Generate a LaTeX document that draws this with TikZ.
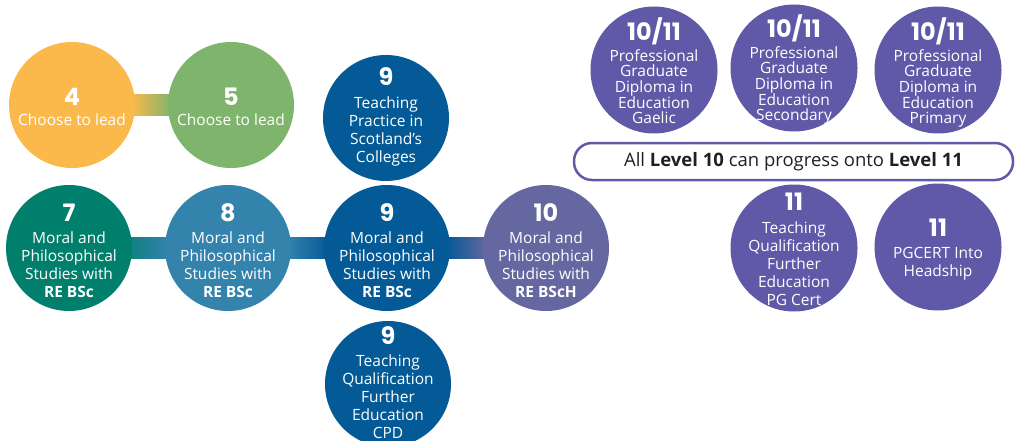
\documentclass[tikz,border=0pt]{standalone}
\usepackage{fontspec}
\setmainfont{Open Sans}
\newfontfamily\numfont{Poppins}
\usetikzlibrary{backgrounds}
\definecolor{cyel}{HTML}{FBB94B}
\definecolor{cgrn}{HTML}{7EB46C}
\definecolor{cteal}{HTML}{007F6C}
\definecolor{cmid}{HTML}{3383AD}
\definecolor{cdark}{HTML}{035A96}
\definecolor{cslate}{HTML}{6567A0}
\definecolor{cpur}{HTML}{5F59A7}
\definecolor{ctxt}{HTML}{231F20}
\begin{document}
\begin{tikzpicture}[x=1pt,y=-1pt,
  circ/.style={circle, minimum size=126pt, inner sep=0pt},
  rcirc/.style={circle, minimum size=127pt, inner sep=0pt, fill=cpur},
  num/.style={font=\numfont\bfseries\fontsize{24}{24}\selectfont, text=white, inner sep=0pt},
  body/.style={align=center, text=white, inner sep=0pt, anchor=north, font=\fontsize{15.5}{18}\selectfont},
  bodyt/.style={body, font=\fontsize{15.5}{15.7}\selectfont},
  band/.style={shading=axis}
]
\useasboundingbox (0,0) rectangle (1016,441);

% circles
\node[circ, fill=cyel] (c4) at (72,105) {};
\node[circ, fill=cgrn] (c5) at (231,105) {};
\node[circ, fill=cdark] (c9t) at (386,118) {};
\node[circ, fill=cteal] (c7) at (69,248) {};
\node[circ, fill=cmid] (c8) at (228,248) {};
\node[circ, fill=cdark] (c9) at (387,248) {};
\node[circ, fill=cslate] (c10) at (546,248) {};
\node[circ, fill=cdark] (c9b) at (388,384) {};
\node[rcirc] (g1) at (654,70) {};
\node[rcirc] (g2) at (794,68) {};
\node[rcirc] (g3) at (938,70) {};
\node[rcirc] (e1) at (794,248) {};
\node[rcirc] (e2) at (938,247) {};

% connector bands
\begin{scope}[on background layer]
\path[band, left color=cyel, right color=cgrn] ([xshift=-4pt,yshift=10.5pt]c4.east) rectangle ([xshift=4pt,yshift=-10.5pt]c5.west);
\path[band, left color=cteal!70!cmid, right color=cmid] ([xshift=-4pt,yshift=10.5pt]c7.east) rectangle ([xshift=4pt,yshift=-10.5pt]c8.west);
\path[band, left color=cmid, right color=cdark] ([xshift=-4pt,yshift=10.5pt]c8.east) rectangle ([xshift=4pt,yshift=-10.5pt]c9.west);
\path[band, left color=cdark, right color=cslate] ([xshift=-4pt,yshift=10.5pt]c9.east) rectangle ([xshift=4pt,yshift=-10.5pt]c10.west);
\end{scope}

% texts
\node[num] (n4) at (72,97) {4};
\node[body] (t4) at (72,114) {Choose to lead};
\node[num] (n5) at (231,97) {5};
\node[body] (t5) at (231,114) {Choose to lead};
\node[num] (n9t) at (386,77) {9};
\node[body] (t9t) at (386,97) {Teaching\\Practice in\\Scotland’s\\Colleges};

\node[num] (n7) at (69,213) {7};
\node[body] (t7) at (69,232) {Moral and\\Philosophical\\Studies with\\\textbf{RE BSc}};
\node[num] (n8) at (228,213) {8};
\node[body] (t8) at (228,232) {Moral and\\Philosophical\\Studies with\\\textbf{RE BSc}};
\node[num] (n9) at (387,213) {9};
\node[body] (t9) at (387,232) {Moral and\\Philosophical\\Studies with\\\textbf{RE BSc}};
\node[num] (n10) at (546,213) {10};
\node[body] (t10) at (546,232) {Moral and\\Philosophical\\Studies with\\\textbf{RE BScH}};

\node[num] (n9b) at (388,336) {9};
\node[body] (t9b) at (388,355) {Teaching\\Qualification\\Further\\Education\\CPD};

\node[num] (ng1) at (654,31) {10/11};
\node[bodyt] (tg1) at (654,49) {Professional\\Graduate\\Diploma in\\Education\\Gaelic};
\node[num] (ng2) at (794,28) {10/11};
\node[bodyt] (tg2) at (794,46) {Professional\\Graduate\\Diploma in\\Education\\Secondary};
\node[num] (ng3) at (938,31) {10/11};
\node[bodyt] (tg3) at (938,49) {Professional\\Graduate\\Diploma in\\Education\\Primary};

\node[num] (ne1) at (794,202) {11};
\node[body, font=\fontsize{15.5}{17.8}\selectfont] (te1) at (794,222) {Teaching\\Qualification\\Further\\Education\\PG Cert};
\node[num] (ne2) at (938,228) {11};
\node[body] (te2) at (938,247) {PGCERT Into\\Headship};

% banner
\node[draw=cpur, line width=2.5pt, fill=white, rounded corners=18pt,
      minimum width=439pt, minimum height=37pt, inner sep=0pt,
      text=ctxt, font=\fontsize{18.5}{20}\selectfont] (all) at (793.5,161.5)
  {All \textbf{Level 10} can progress onto \textbf{Level 11}};
\end{tikzpicture}
\end{document}
